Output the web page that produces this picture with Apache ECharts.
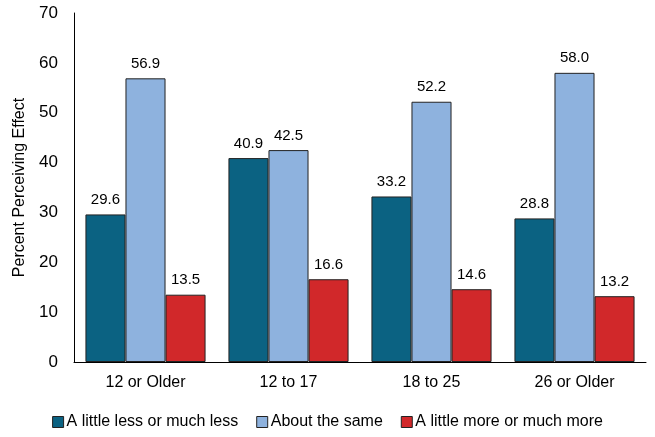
<!DOCTYPE html>
<html><head><meta charset="utf-8">
<script src="https://cdn.jsdelivr.net/npm/echarts@6/dist/echarts.min.js"></script>
<style>html,body{margin:0;padding:0;background:#fff}#c{width:655px;height:437px}</style>
</head><body><div id="c"></div>
<script>
const categories = ['12 or Older', '12 to 17', '18 to 25', '26 or Older'];
const seriesNames = ['A little less or much less', 'About the same', 'A little more or much more'];
const lessValues = [29.6, 40.9, 33.2, 28.8];
const sameValues = [56.9, 42.5, 52.2, 58.0];
const moreValues = [13.5, 16.6, 14.6, 13.2];
const colors = ['#0b6282', '#8eb2de', '#d1282a'];
const FONT = '"Liberation Sans Narrow", "Liberation Sans", Arial, sans-serif';
const chart = echarts.init(document.getElementById('c'), null, {renderer: 'canvas'});
const mk = (name, data, color) => ({
  name, type: 'bar', data, barGap: '0%', barCategoryGap: '16%',
  itemStyle: {color, borderColor: '#222', borderWidth: 1},
  label: {show: true, position: 'top', distance: 7, color: '#000', fontFamily: FONT, fontSize: 15,
    formatter: p => p.value.toFixed(1)}
});
chart.setOption({
  animation: false,
  textStyle: {fontFamily: FONT},
  grid: {left: 74, right: 9, top: 13, bottom: 75, containLabel: false},
  legend: {
    bottom: 2, left: 'center', itemWidth: 11, itemHeight: 11, itemGap: 18,
    icon: 'rect', textStyle: {fontFamily: FONT, fontSize: 16, color: '#000', padding: [0, 0, 0, -2]},
    data: seriesNames.map((n, i) => ({name: n, itemStyle: {borderColor: '#222', borderWidth: 1}}))
  },
  xAxis: {
    type: 'category', data: categories,
    axisLine: {lineStyle: {color: '#000', width: 1}}, axisTick: {show: false},
    axisLabel: {color: '#000', fontFamily: FONT, fontSize: 16, margin: 13}
  },
  yAxis: {
    type: 'value', min: 0, max: 70, interval: 10,
    name: 'Percent Perceiving Effect', nameLocation: 'middle', nameGap: 46,
    nameTextStyle: {color: '#000', fontFamily: FONT, fontSize: 16},
    axisLine: {show: true, lineStyle: {color: '#000', width: 1}}, axisTick: {show: false},
    splitLine: {show: false},
    axisLabel: {color: '#000', fontFamily: FONT, fontSize: 17, margin: 16}
  },
  series: [mk(seriesNames[0], lessValues, colors[0]), mk(seriesNames[1], sameValues, colors[1]), mk(seriesNames[2], moreValues, colors[2])]
});
</script></body></html>
